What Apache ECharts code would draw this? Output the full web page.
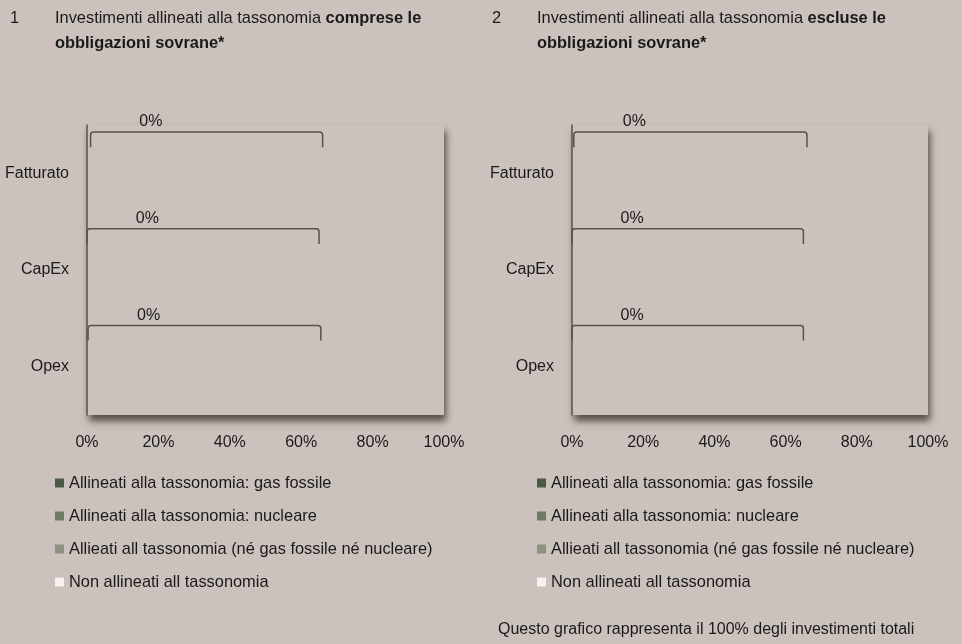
<!DOCTYPE html>
<html>
<head>
<meta charset="utf-8">
<script src="https://cdn.jsdelivr.net/npm/echarts@6/dist/echarts.min.js"></script>
<style>
html,body{margin:0;padding:0;background:#ccc2bd;}
#chart{width:962px;height:644px;}
</style>
</head>
<body>
<div id="chart"></div>
<script>
// ---- data ----
const categories = ['Fatturato', 'CapEx', 'Opex'];
const seriesNames = [
  'Allineati alla tassonomia: gas fossile',
  'Allineati alla tassonomia: nucleare',
  'Allieati all tassonomia (né gas fossile né nucleare)',
  'Non allineati all tassonomia'
];
// panel 1: comprese le obbligazioni sovrane
const p1GasFossile = [0, 0, 0];
const p1Nucleare = [0, 0, 0];
const p1Altro = [0, 0, 0];
const p1NonAllineati = [0, 0, 0];
// panel 2: escluse le obbligazioni sovrane
const p2GasFossile = [0, 0, 0];
const p2Nucleare = [0, 0, 0];
const p2Altro = [0, 0, 0];
const p2NonAllineati = [0, 0, 0];
// bracket annotations (value-axis extents, %)
const p1BracketStart = [1, 0, 0.3];
const p1BracketEnd = [66, 65, 65.5];
const p2BracketStart = [0.5, 0, 0];
const p2BracketEnd = [66, 65, 65];
const xTicks = [0, 20, 40, 60, 80, 100];
const footnote = 'Questo grafico rappresenta il 100% degli investimenti totali';

const colors = ['#4b5a44', '#6f7a65', '#8e917f', '#f5f2f0'];
const FONT = '"Liberation Sans", Arial, sans-serif';
const TXT = '#1a1a1a';

function barSeries(vals, gi) {
  return vals.map((v, k) => ({
    name: seriesNames[k], type: 'bar', stack: 'p' + gi,
    xAxisIndex: gi, yAxisIndex: gi, data: v, barWidth: '40%',
    itemStyle: { color: colors[k] }
  }));
}

function bracketSeries(start, end, sums, gi) {
  return {
    type: 'custom', xAxisIndex: gi, yAxisIndex: gi, silent: true,
    encode: { x: [0, 1], y: 2 },
    data: categories.map((c, i) => [start[i], end[i], i, sums[i]]),
    renderItem: function (params, api) {
      const p0 = api.coord([api.value(0), api.value(2)]);
      const p1 = api.coord([api.value(1), api.value(2)]);
      const band = api.size([0, 1])[1];
      const lineY = p0[1] - 0.427 * band;
      const tickY = p0[1] - 0.27 * band;
      const x0 = p0[0], x1 = p1[0], r = 3;
      const path = 'M' + x0 + ' ' + tickY + ' L' + x0 + ' ' + (lineY + r) +
        ' Q' + x0 + ' ' + lineY + ' ' + (x0 + r) + ' ' + lineY +
        ' L' + (x1 - r) + ' ' + lineY +
        ' Q' + x1 + ' ' + lineY + ' ' + x1 + ' ' + (lineY + r) +
        ' L' + x1 + ' ' + tickY;
      return {
        type: 'group',
        children: [
          { type: 'path', shape: { pathData: path },
            style: { fill: null, stroke: '#5a504c', lineWidth: 1.5 } },
          { type: 'text', x: x0 + 0.26 * (x1 - x0), y: lineY - 10,
            style: { text: api.value(3) + '%', fill: TXT, font: '16px ' + FONT,
              align: 'center', verticalAlign: 'middle' } }
        ]
      };
    }
  };
}

function sumAligned(a, b, c) { return a.map((v, i) => v + b[i] + c[i]); }

const p1Series = barSeries([p1GasFossile, p1Nucleare, p1Altro, p1NonAllineati], 0);
const p2Series = barSeries([p2GasFossile, p2Nucleare, p2Altro, p2NonAllineati], 1);

const gridCommon = {
  show: true, backgroundColor: '#ccc2bd', borderWidth: 0,
  shadowColor: 'rgba(45,38,34,0.75)', shadowBlur: 7, shadowOffsetX: 2, shadowOffsetY: 6,
  top: 125, height: 290, containLabel: false
};

function xAxis(gi) {
  return {
    type: 'value', gridIndex: gi, min: 0, max: 100, interval: 20,
    axisLine: { show: false }, axisTick: { show: false }, splitLine: { show: false },
    axisLabel: { formatter: '{value}%', color: TXT, fontSize: 16, fontFamily: FONT, margin: 20,
      customValues: xTicks }
  };
}
function yAxis(gi) {
  return {
    type: 'category', gridIndex: gi, data: categories, inverse: true,
    axisLine: { show: true, lineStyle: { color: '#5b504d', width: 1.5 } },
    axisTick: { show: false }, splitLine: { show: false },
    axisLabel: { color: TXT, fontSize: 16, fontFamily: FONT, margin: 18 }
  };
}
function legend(left) {
  return {
    orient: 'vertical', left: left, top: 475, padding: 0, itemGap: 17,
    icon: 'rect', itemWidth: 9, itemHeight: 9, selectedMode: false,
    data: seriesNames,
    textStyle: { color: TXT, fontSize: 16.4, fontFamily: FONT, lineHeight: 16 }
  };
}
function titleText(num, normal, bold1, bold2, left) {
  return [
    { text: num, left: left, top: 6, padding: 0,
      textStyle: { fontSize: 16.4, fontWeight: 'normal', color: TXT, fontFamily: FONT, lineHeight: 25 } },
    { text: '{n|' + normal + '}{b|' + bold1 + '}\n{b|' + bold2 + '}', left: left + 45, top: 6, padding: 0,
      textStyle: { rich: {
        n: { fontSize: 16.4, fontWeight: 'normal', color: TXT, fontFamily: FONT, lineHeight: 25 },
        b: { fontSize: 16.4, fontWeight: 'bold', color: TXT, fontFamily: FONT, lineHeight: 25 } } } }
  ];
}

const chart = echarts.init(document.getElementById('chart'), null, { renderer: 'canvas' });
chart.setOption({
  backgroundColor: '#ccc2bd',
  animation: false,
  title: [
    ...titleText('1', 'Investimenti allineati alla tassonomia ', 'comprese le', 'obbligazioni sovrane*', 10),
    ...titleText('2', 'Investimenti allineati alla tassonomia ', 'escluse le', 'obbligazioni sovrane*', 492)
  ],
  grid: [
    Object.assign({}, gridCommon, { left: 87, width: 357 }),
    Object.assign({}, gridCommon, { left: 572, width: 356 })
  ],
  xAxis: [xAxis(0), xAxis(1)],
  yAxis: [yAxis(0), yAxis(1)],
  legend: [legend(55), legend(537)],
  series: [
    ...p1Series, ...p2Series,
    bracketSeries(p1BracketStart, p1BracketEnd, sumAligned(p1GasFossile, p1Nucleare, p1Altro), 0),
    bracketSeries(p2BracketStart, p2BracketEnd, sumAligned(p2GasFossile, p2Nucleare, p2Altro), 1)
  ],
  graphic: [
    { type: 'text', left: 498, top: 622,
      style: { text: footnote, fill: TXT, font: '16px ' + FONT } }
  ]
});
</script>
</body>
</html>
